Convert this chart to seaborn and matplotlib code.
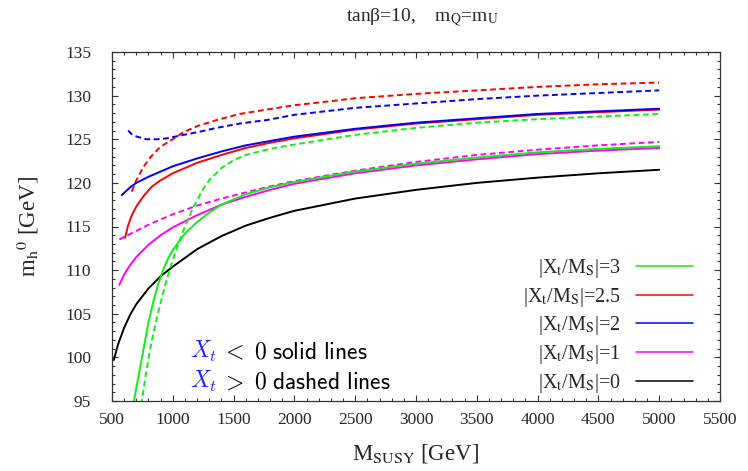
import matplotlib
matplotlib.use("Agg")
import matplotlib.pyplot as plt
from matplotlib.lines import Line2D
from matplotlib.font_manager import FontProperties
from matplotlib.ticker import MultipleLocator
import seaborn as sns

# ---------------- data ----------------
x_k0 = [515, 550, 600, 650, 700, 800, 900, 1000, 1200, 1400, 1600, 1800, 2000, 2500, 3000, 3500, 4000, 4500, 5000]
y_k0 = [99.7, 101.5, 103.4, 104.9, 106.1, 107.9, 109.3, 110.4, 112.4, 113.9, 115.1, 116.0, 116.8, 118.2, 119.2, 120.0, 120.6, 121.1, 121.5]

x_m_neg = [560, 600, 650, 700, 800, 900, 1000, 1200, 1400, 1600, 1800, 2000, 2500, 3000, 3500, 4000, 4500, 5000]
y_m_neg = [108.3, 109.5, 110.6, 111.5, 112.9, 114.0, 114.9, 116.3, 117.5, 118.4, 119.2, 119.9, 121.1, 122.0, 122.7, 123.3, 123.7, 124.0]

x_m_pos = [560, 600, 700, 800, 900, 1000, 1200, 1400, 1600, 1800, 2000, 2500, 3000, 3500, 4000, 4500, 5000]
y_m_pos = [113.5, 113.8, 114.5, 115.2, 115.8, 116.4, 117.4, 118.2, 118.9, 119.6, 120.2, 121.4, 122.4, 123.2, 123.8, 124.3, 124.7]

x_g_neg = [660, 680, 720, 760, 800, 840, 880, 920, 960, 1000, 1100, 1200, 1300, 1400, 1600, 1800, 2000, 2500, 3000, 3500, 4000, 4500, 5000]
y_g_neg = [93.0, 95.0, 98.0, 101.0, 104.0, 106.4, 108.4, 110.0, 111.3, 112.3, 114.2, 115.5, 116.6, 117.5, 118.7, 119.5, 120.1, 121.3, 122.2, 122.9, 123.5, 123.9, 124.2]

x_g_pos = [730, 745, 780, 812, 850, 895, 940, 980, 1030, 1080, 1130, 1180, 1250, 1300, 1400, 1500, 1600, 1800, 2000, 2500, 3000, 3500, 4000, 4500, 5000]
y_g_pos = [93.5, 95.0, 98.2, 100.8, 103.4, 106.0, 108.4, 110.3, 112.4, 114.3, 116.0, 117.5, 119.3, 120.3, 121.7, 122.6, 123.2, 123.9, 124.4, 125.5, 126.3, 126.9, 127.3, 127.6, 127.9]

x_b_neg = [580, 650, 700, 800, 900, 1000, 1200, 1400, 1600, 1800, 2000, 2500, 3000, 3500, 4000, 4500, 5000]
y_b_neg = [118.6, 119.5, 120.0, 120.7, 121.3, 121.9, 122.8, 123.6, 124.3, 124.8, 125.3, 126.2, 126.9, 127.4, 127.9, 128.2, 128.5]

x_b_pos = [633, 660, 705, 782, 870, 950, 1087, 1200, 1360, 1550, 1772, 2000, 2500, 3000, 3500, 4000, 4500, 5000]
y_b_pos = [126.0, 125.6, 125.3, 125.0, 125.0, 125.1, 125.5, 125.8, 126.3, 126.8, 127.2, 127.8, 128.6, 129.1, 129.6, 130.0, 130.3, 130.6]

x_r_neg = [607, 630, 660, 700, 760, 830, 900, 1000, 1200, 1400, 1600, 1800, 2000, 2500, 3000, 3500, 4000, 4500, 5000]
y_r_neg = [113.7, 115.0, 116.2, 117.3, 118.5, 119.6, 120.3, 121.1, 122.3, 123.2, 124.0, 124.6, 125.1, 126.1, 126.8, 127.3, 127.8, 128.1, 128.4]

x_r_pos = [663, 700, 757, 820, 895, 1000, 1087, 1200, 1360, 1550, 1772, 2000, 2320, 2500, 3000, 3500, 4000, 4500, 5000]
y_r_pos = [119.0, 120.3, 121.8, 123.0, 124.1, 125.0, 125.8, 126.5, 127.2, 127.9, 128.4, 128.9, 129.4, 129.7, 130.2, 130.6, 131.0, 131.3, 131.5]

legend_labels = ['|X$_\\mathrm{t}$/M$_\\mathrm{S}$|=3', '|X$_\\mathrm{t}$/M$_\\mathrm{S}$|=2.5',
                 '|X$_\\mathrm{t}$/M$_\\mathrm{S}$|=2', '|X$_\\mathrm{t}$/M$_\\mathrm{S}$|=1',
                 '|X$_\\mathrm{t}$/M$_\\mathrm{S}$|=0']
x_ticks = [500, 1000, 1500, 2000, 2500, 3000, 3500, 4000, 4500, 5000, 5500]
y_ticks = [95, 100, 105, 110, 115, 120, 125, 130, 135]

# ---------------- styling ----------------
sns.set_style("ticks")
plt.rcParams['font.family'] = ['Liberation Serif', 'DejaVu Serif']
plt.rcParams['mathtext.fontset'] = 'stix'

GREEN = '#11ee11'
RED = '#ff0000'
BLUE = '#0000ff'
MAG = '#ff00ff'
BLACK = '#000000'
LW = 1.4
DASH = (0, (3.0, 1.8))

fig = plt.figure(figsize=(7.48, 4.71), dpi=100)
ax = fig.add_axes([112 / 748, 1 - 401 / 471, (720 - 112) / 748, (401 - 52) / 471])

curves = [
    (x_k0, y_k0, BLACK, '-'),
    (x_m_neg, y_m_neg, MAG, '-'),
    (x_m_pos, y_m_pos, MAG, DASH),
    (x_g_pos, y_g_pos, GREEN, DASH),
    (x_g_neg, y_g_neg, GREEN, '-'),
    (x_r_pos, y_r_pos, RED, DASH),
    (x_r_neg, y_r_neg, RED, '-'),
    (x_b_pos, y_b_pos, BLUE, DASH),
    (x_b_neg, y_b_neg, BLUE, '-'),
]
for xs, ys, col, ls in curves:
    sns.lineplot(x=xs, y=ys, ax=ax, color=col, linewidth=LW, sort=False)
    ax.lines[-1].set_linestyle(ls)

ax.set_xlim(500, 5500)
ax.set_ylim(95, 135)
ax.set_xticks(x_ticks)
ax.set_yticks(y_ticks)
ax.xaxis.set_minor_locator(MultipleLocator(100))
ax.yaxis.set_minor_locator(MultipleLocator(1))
ax.tick_params(which='both', direction='in', top=True, right=True, color='#333333', width=0.8)
ax.tick_params(which='major', length=4.5)
ax.tick_params(which='minor', length=2.3)
ax.tick_params(axis='x', which='major', labelsize=12.5, pad=8)
ax.tick_params(axis='y', which='major', labelsize=12.5, pad=15)
for sp in ax.spines.values():
    sp.set_linewidth(0.9)
    sp.set_color('#333333')

ax.set_xlabel('M$_\\mathrm{SUSY}$ [GeV]', fontsize=16.5, labelpad=10)
ax.set_ylabel('m$_\\mathrm{h}{}^\\mathrm{0}$ [GeV]', fontsize=16.5, labelpad=17)

fig.text(0.565, 0.962, 'tanβ=10,    m$_\\mathrm{Q}$=m$_\\mathrm{U}$', ha='center', va='center', fontsize=14)

# legend
handles = [Line2D([], [], color=c, linewidth=1.1) for c in [GREEN, RED, BLUE, MAG, BLACK]]
leg = ax.legend(handles, legend_labels, loc='lower right', bbox_to_anchor=(0.986, -0.034),
                frameon=False, markerfirst=False, handlelength=2.85, handletextpad=0.75,
                labelspacing=0.28, prop=FontProperties(family='Liberation Serif', size=14.5, math_fontfamily='stix'))
for col in leg._legend_handle_box.get_children():
    col.align = 'right'

# annotations
ax.text(0.128, 0.122, '$X_t$', transform=ax.transAxes, color='#2222ff', fontsize=17,
        va='baseline', ha='left', math_fontfamily='cm')
ax.text(0.180, 0.122, '$<\\ 0\\;\\mathsf{solid\\ lines}$', transform=ax.transAxes, color='black', fontsize=17,
        va='baseline', ha='left', math_fontfamily='cm')
ax.text(0.128, 0.036, '$X_t$', transform=ax.transAxes, color='#2222ff', fontsize=17,
        va='baseline', ha='left', math_fontfamily='cm')
ax.text(0.180, 0.036, '$>\\ 0\\;\\mathsf{dashed\\ lines}$', transform=ax.transAxes, color='black', fontsize=17,
        va='baseline', ha='left', math_fontfamily='cm')

fig.savefig('out.png', dpi=100)
